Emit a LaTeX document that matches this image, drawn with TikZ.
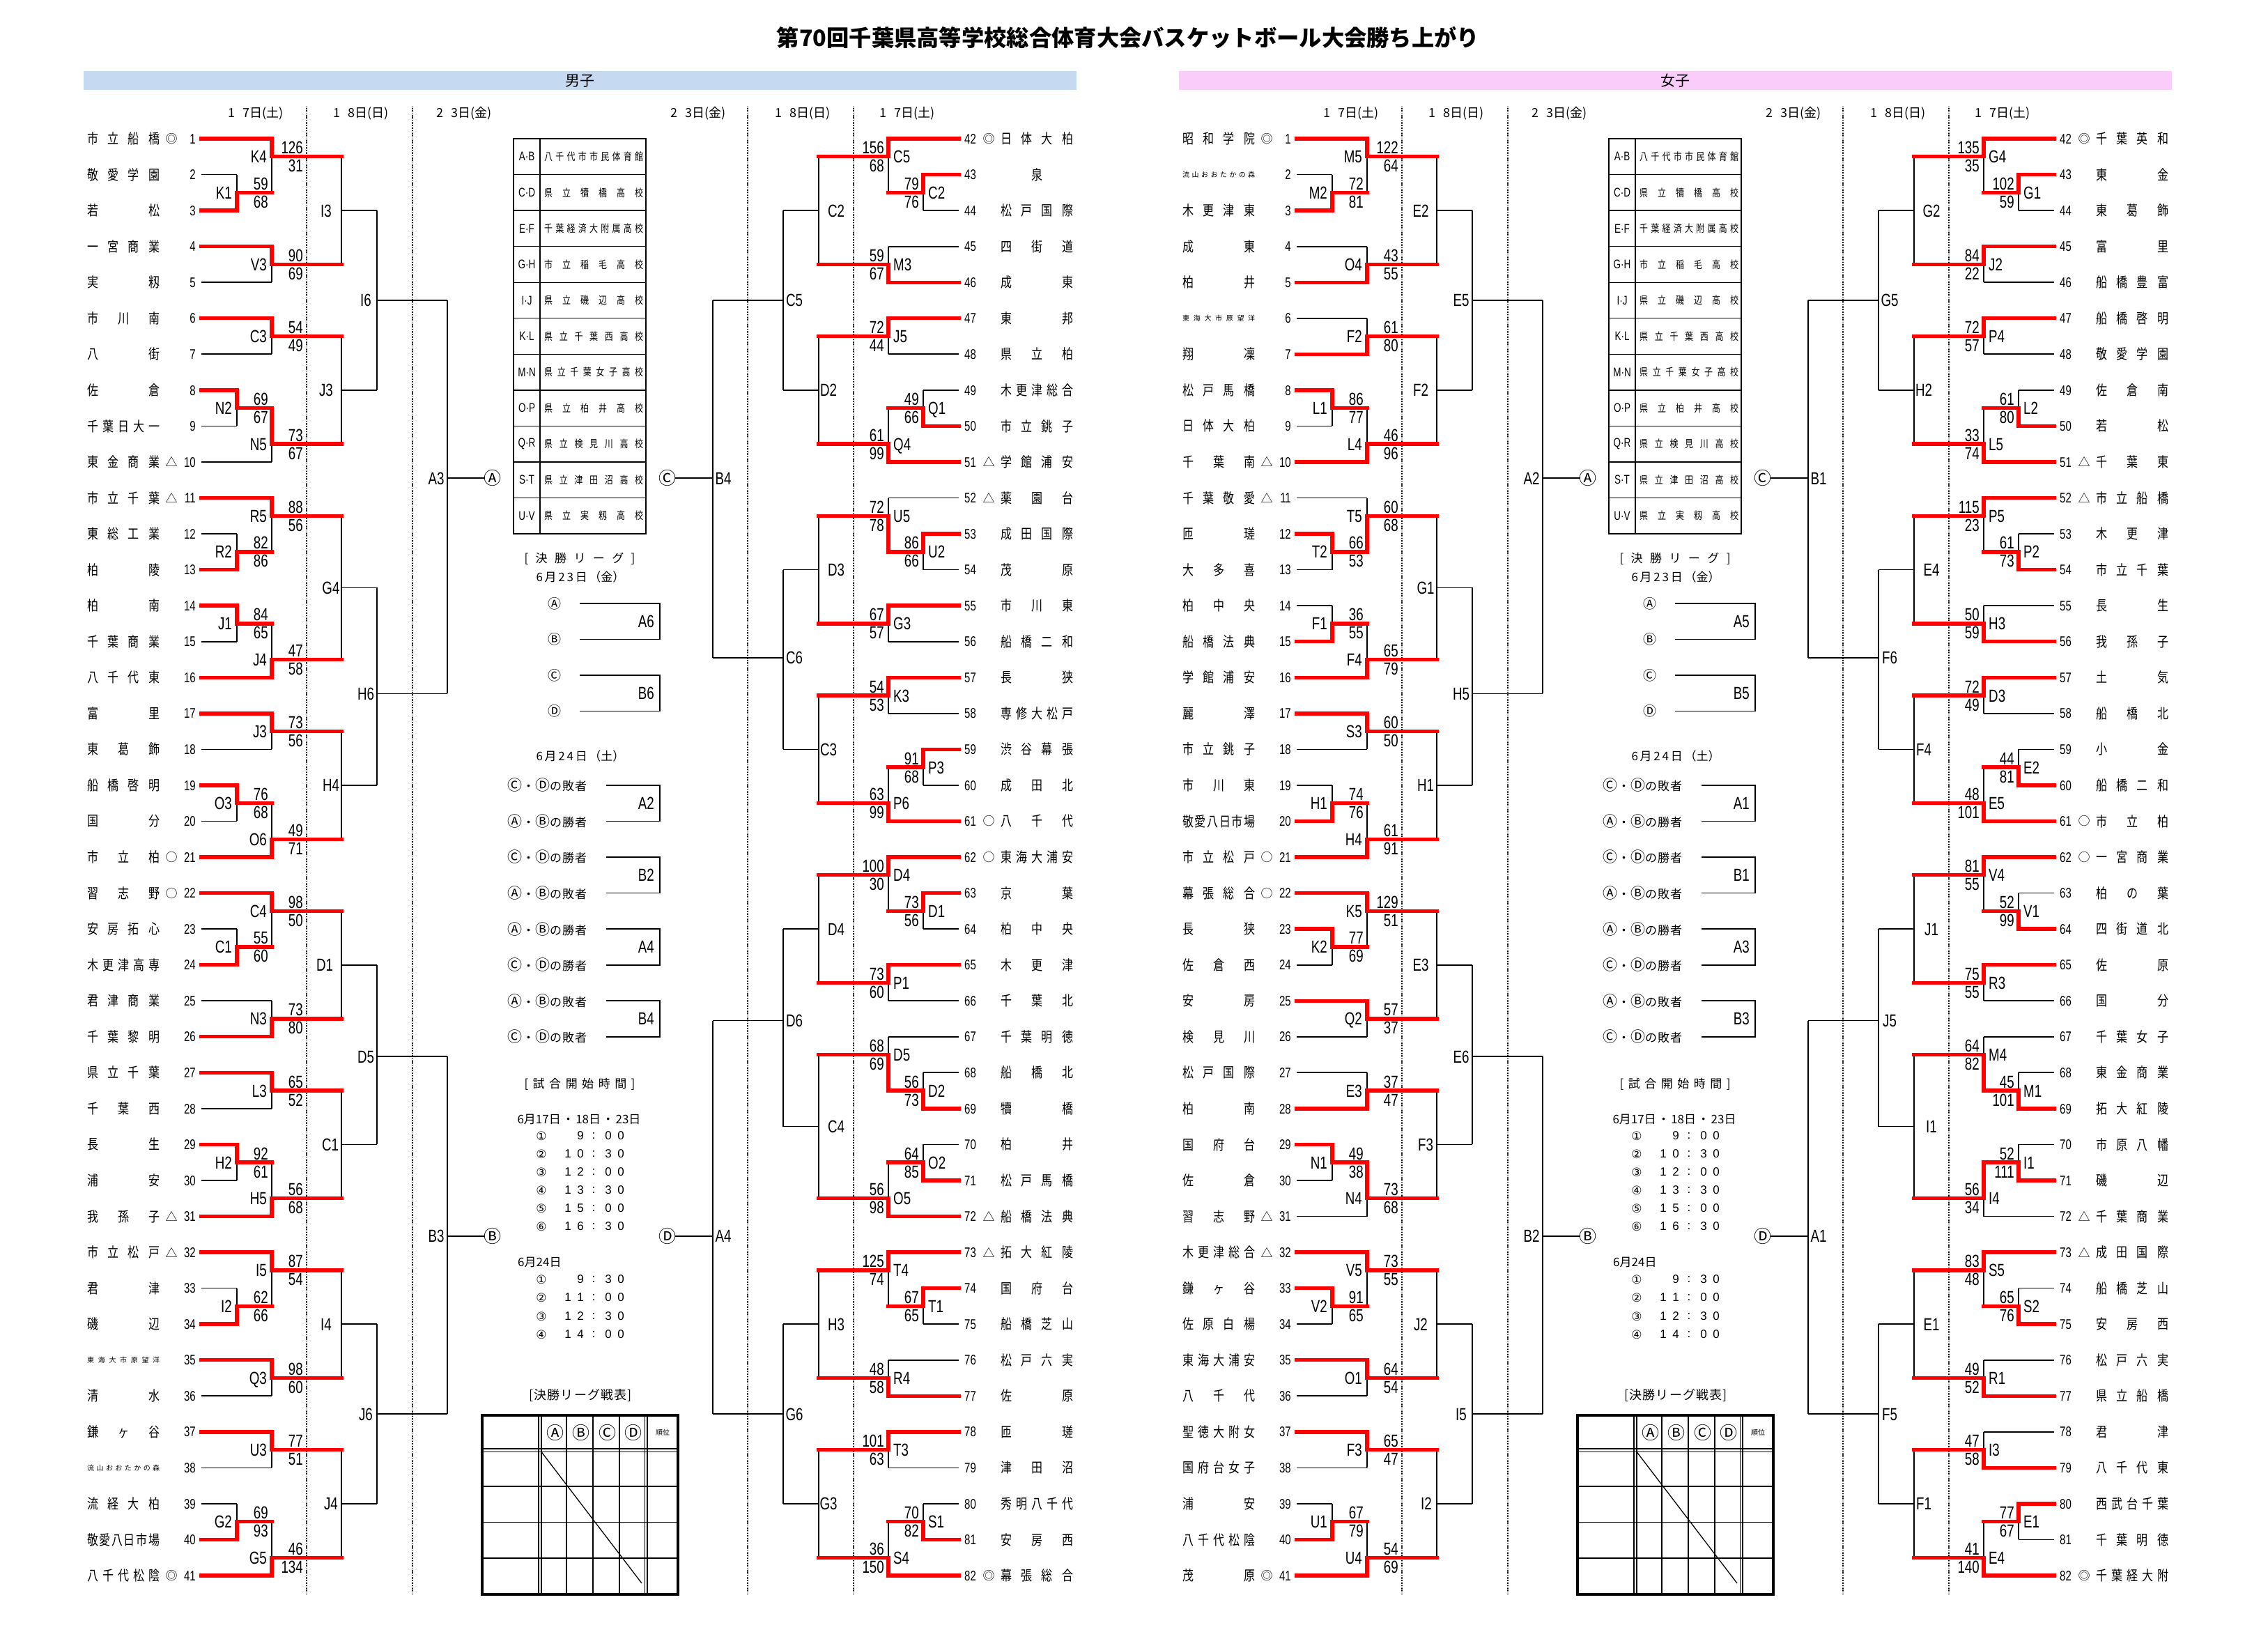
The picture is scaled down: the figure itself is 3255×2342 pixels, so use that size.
\documentclass[tikz,border=0pt]{standalone}
\usepackage{fontspec}
\setmainfont{Liberation Sans}
\newfontfamily\jp[FakeStretch=0.8]{Noto Sans CJK JP}
\newfontfamily\jpn{Noto Sans CJK JP}
\newfontfamily\nm[FakeStretch=0.75]{Liberation Sans}
\newfontfamily\cir{DejaVu Sans}
\pgfdeclarelayer{fg}
\pgfsetlayers{main,fg}
\definecolor{wred}{RGB}{255,0,0}
\definecolor{boyblue}{RGB}{197,217,241}
\definecolor{girlpink}{RGB}{250,204,250}

\def\spreadA#1{\spreadB#1\relax}
\def\spreadB#1#2{#1\ifx\relax#2\else\hfil\expandafter\spreadB\expandafter#2\fi}

\def\xoff{0}\def\xsg{1}\def\namec{125}\def\lanc{east}\def\sco{45}
\newcommand\setside[5]{\def\xoff{#1}\def\xsg{#2}\def\namec{#3}\def\lanc{#4}\def\sco{#5}}
\pgfmathdeclarefunction{colx}{1}{\pgfmathparse{\xoff+(\xsg)*(#1)}}
\pgfmathdeclarefunction{rowy}{1}{\pgfmathparse{147.45+51.55*(#1)}}

\tikzset{
  bk/.style={line width=1.7pt,black},
  rd/.style={line width=5.4pt,wred,line cap=rect},
  lab/.style={inner sep=0pt,text height=18pt,text depth=0pt,font=\nm\fontsize{25}{25}\selectfont},
  tnum/.style={inner sep=0pt,text height=14.3pt,text depth=0pt,font=\nm\fontsize{20}{20}\selectfont},
  mk/.style={inner sep=0pt,font=\jpn\fontsize{17}{17}\selectfont},
  dotl/.style={line width=1.2pt,dash pattern=on 1.2pt off 1.2pt},
  cirl/.style={inner sep=0pt,font=\jpn\fontsize{25}{25}\selectfont},
}

\newcommand\teamI[7]{%
  \pgfmathsetmacro\ty{rowy(#2)}%
  \node[anchor=west,inner sep=0pt] at ({colx(\namec)},\ty) {#1\hbox to 104pt{\spreadA{#5}}};%
  \node[tnum,anchor=\lanc] at ({colx(281)},\ty) {#3};%
  \node[mk] at ({colx(246)},\ty) {#4};%
  \ifnum#7=1\relax
    \begin{pgfonlayer}{fg}\draw[rd] ({colx(289)},\ty) -- ({colx(#6)},\ty);\end{pgfonlayer}%
  \else
    \draw[bk] ({colx(289)},\ty) -- ({colx(#6)},\ty);%
  \fi}
\newcommand\team[6]{\teamI{\jp\fontsize{20}{20}\selectfont}{#1}{#2}{#3}{#4}{#5}{#6}}
\newcommand\teamS[6]{\teamI{\jpn\fontsize{10}{10}\selectfont}{#1}{#2}{#3}{#4}{#5}{#6}}

% played match: x, r1, r2, rout, xnext, winner, label, s1, s2
\newcommand\pmatch[9]{%
  \pgfmathsetmacro\xa{colx(#1)}\pgfmathsetmacro\xb{colx(#5)}%
  \pgfmathsetmacro\ya{rowy(#2)}\pgfmathsetmacro\yb{rowy(#3)}\pgfmathsetmacro\yo{rowy(#4)}%
  \ifnum#6=1 \let\yw\ya\else\let\yw\yb\fi
  \draw[bk] (\xa,\ya) -- (\xa,\yb);%
  \begin{pgfonlayer}{fg}\draw[rd] (\xa,\yw) -- (\xa,\yo) -- (\xb,\yo);\end{pgfonlayer}%
  \pgfmathsetmacro\xl{colx(#1-7)}\pgfmathsetmacro\xs{colx(#1+\sco)}%
  \node[lab,anchor=\lanc] at (\xl,\yo) {#7};%
  \node[lab,anchor=east] at (\xs,\yo-13) {#8};%
  \node[lab,anchor=east] at (\xs,\yo+13) {#9};%
}
% unplayed match: x, r1, r2, rout, xnext, label, label centre x
\newcommand\umatch[7]{%
  \pgfmathsetmacro\xa{colx(#1)}\pgfmathsetmacro\xb{colx(#5)}%
  \pgfmathsetmacro\ya{rowy(#2)}\pgfmathsetmacro\yb{rowy(#3)}\pgfmathsetmacro\yo{rowy(#4)}%
  \draw[bk] (\xa,\ya) -- (\xa,\yb);%
  \draw[bk] (\xa,\yo) -- (\xb,\yo);%
  \node[lab] at ({colx(#7)},\yo) {#6};%
}
\newcommand\cl[2]{\pgfmathsetmacro\ty{rowy(#1)}\node[cirl] at ({colx(707)},\ty) {#2};}
\newcommand\sidedots{\draw[dotl] ({colx(440)},153) -- ({colx(440)},2288);
  \draw[dotl] ({colx(592)},153) -- ({colx(592)},2288);}
\newcommand\dayh[4]{\node[inner sep=0pt] at (#1,163) {\jpn\fontsize{18}{18}\selectfont\hbox to 80pt{#2\hfil #3日(#4)}};}

% centre block
\newcommand\lrow[4]{\node[anchor=west,inner sep=0pt] at (728,#1) {\fontsize{17}{17}\selectfont\hbox to 114pt{{\jpn\fontsize{21}{21}\selectfont #2}\hfil{\jpn ・}\hfil{\jpn\fontsize{21}{21}\selectfont #3}{\jpn の\hfil #4\hfil 者}}};}
\newcommand\bbox[4]{\draw[bk] (#1,#2) -- (947,#2) -- (947,#3) -- (#1,#3);
  \node[lab,anchor=east] at (939,{(#2+#3)/2}) {#4};}
\newcommand\tline[6]{%
  \node[inner sep=0pt] at (777,#1) {\cir\fontsize{17}{17}\selectfont #2};
  \node[inner sep=0pt] at (815,#1) {\fontsize{17}{17}\selectfont #3};
  \node[inner sep=0pt] at (833,#1) {\fontsize{17}{17}\selectfont #4};
  \node[inner sep=0pt] at (852,#1) {\fontsize{17}{17}\selectfont :};
  \node[inner sep=0pt] at (873,#1) {\fontsize{17}{17}\selectfont #5};
  \node[inner sep=0pt] at (891,#1) {\fontsize{17}{17}\selectfont #6};}
\newcommand\vrow[3]{\pgfmathsetmacro\vy{rowy(#1+0.5)}%
  \node[inner sep=0pt] at (756,\vy) {\nm\fontsize{18}{18}\selectfont #2};
  \node[anchor=west,inner sep=0pt] at (781,\vy) {\jp\fontsize{15}{15}\selectfont\hbox to 142pt{\spreadA{#3}}};}
\newcommand\centerblock[7]{%
\begin{scope}[xshift=#1pt]
  \draw[line width=1.3pt] (737,250.55) -- (927,250.55) (737,302.1) -- (927,302.1) (737,353.65) -- (927,353.65)
    (737,405.2) -- (927,405.2) (737,456.75) -- (927,456.75) (737,508.3) -- (927,508.3) (737,559.85) -- (927,559.85)
    (737,611.4) -- (927,611.4) (737,662.95) -- (927,662.95) (737,714.5) -- (927,714.5);
  \draw[line width=2.6pt] (737,199) rectangle (927,766.05);
  \draw[line width=2.6pt] (775,199) -- (775,766.05);
  \vrow{1}{A·B}{八千代市市民体育館}
  \vrow{2}{C·D}{県立犢橋高校}
  \vrow{3}{E·F}{千葉経済大附属高校}
  \vrow{4}{G·H}{市立稲毛高校}
  \vrow{5}{I·J}{県立磯辺高校}
  \vrow{6}{K·L}{県立千葉西高校}
  \vrow{7}{M·N}{県立千葉女子高校}
  \vrow{8}{O·P}{県立柏井高校}
  \vrow{9}{Q·R}{県立検見川高校}
  \vrow{10}{S·T}{県立津田沼高校}
  \vrow{11}{U·V}{県立実籾高校}
  \node[inner sep=0pt] at (832,802) {\jpn\fontsize{17}{17}\selectfont\hbox to 159pt{[\hfil 決\hfil 勝\hfil リ\hfil ー\hfil グ\hfil ]}};
  \node[inner sep=0pt] at (833,828) {\jpn\fontsize{17}{17}\selectfont\hbox to 127pt{6\hfil 月\hfil 2\hfil 3\hfil 日\hfil （金）}};
  \node[inner sep=0pt] at (796,866) {\jpn\fontsize{19}{19}\selectfont Ⓐ};
  \node[inner sep=0pt] at (796,917.5) {\jpn\fontsize{19}{19}\selectfont Ⓑ};
  \node[inner sep=0pt] at (796,969) {\jpn\fontsize{19}{19}\selectfont Ⓒ};
  \node[inner sep=0pt] at (796,1020.5) {\jpn\fontsize{19}{19}\selectfont Ⓓ};
  \bbox{832}{866}{917.5}{#2}
  \bbox{832}{969}{1020.5}{#3}
  \node[inner sep=0pt] at (833,1085) {\jpn\fontsize{17}{17}\selectfont\hbox to 127pt{6\hfil 月\hfil 2\hfil 4\hfil 日\hfil （土）}};
  \lrow{1126.9}{Ⓒ}{Ⓓ}{敗}
  \lrow{1178.45}{Ⓐ}{Ⓑ}{勝}
  \lrow{1230}{Ⓒ}{Ⓓ}{勝}
  \lrow{1281.55}{Ⓐ}{Ⓑ}{敗}
  \lrow{1333.1}{Ⓐ}{Ⓑ}{勝}
  \lrow{1384.65}{Ⓒ}{Ⓓ}{勝}
  \lrow{1436.2}{Ⓐ}{Ⓑ}{敗}
  \lrow{1487.75}{Ⓒ}{Ⓓ}{敗}
  \bbox{870}{1126.9}{1178.45}{#4}
  \bbox{870}{1230}{1281.55}{#5}
  \bbox{870}{1333.1}{1384.65}{#6}
  \bbox{870}{1436.2}{1487.75}{#7}
  \node[inner sep=0pt] at (832,1556) {\jpn\fontsize{17}{17}\selectfont\hbox to 159pt{[\hfil 試\hfil 合\hfil 開\hfil 始\hfil 時\hfil 間\hfil ]}};
  \node[inner sep=0pt] at (831,1606) {\jpn\fontsize{17}{17}\selectfont\hbox to 177pt{6月17日\hfil ・\hfil 18日\hfil ・\hfil 23日}};
  \tline{1630}{①}{}{9}{0}{0}
  \tline{1656}{②}{1}{0}{3}{0}
  \tline{1682}{③}{1}{2}{0}{0}
  \tline{1708}{④}{1}{3}{3}{0}
  \tline{1734}{⑤}{1}{5}{0}{0}
  \tline{1760}{⑥}{1}{6}{3}{0}
  \node[anchor=west,inner sep=0pt] at (743,1811) {\jpn\fontsize{17}{17}\selectfont 6月24日};
  \tline{1836}{①}{}{9}{3}{0}
  \tline{1862}{②}{1}{1}{0}{0}
  \tline{1889}{③}{1}{2}{3}{0}
  \tline{1915}{④}{1}{4}{0}{0}
  \node[inner sep=0pt] at (833,2002) {\jpn\fontsize{18}{18}\selectfont\hbox to 147pt{[\hfil 決\hfil 勝\hfil リ\hfil ー\hfil グ\hfil 戦\hfil 表\hfil ]}};
  \draw[line width=1.2pt] (773,2031) -- (773,2288) (777,2031) -- (777,2288)
    (925.5,2031) -- (925.5,2288) (929,2031) -- (929,2288)
    (692,2079) -- (973,2079) (692,2083.5) -- (973,2083.5);
  \draw[line width=1.6pt] (813,2031) -- (813,2288) (851,2031) -- (851,2288) (889,2031) -- (889,2288)
    (692,2133) -- (973,2133) (692,2184.5) -- (973,2184.5) (692,2236) -- (973,2236);
  \draw[line width=3.5pt] (692,2031) rectangle (973,2288);
  \draw[line width=1.3pt] (777,2083.5) -- (921,2272);
  \node[cirl] at (797,2056) {Ⓐ};
  \node[cirl] at (834,2056) {Ⓑ};
  \node[cirl] at (872,2056) {Ⓒ};
  \node[cirl] at (909,2056) {Ⓓ};
  \node[inner sep=0pt] at (951,2056) {\jpn\fontsize{10}{10}\selectfont 順位};
\end{scope}}

\begin{document}
\begin{tikzpicture}[x=1pt,y=-1pt]
\useasboundingbox (0,0) rectangle (3255,2342);
\fill[white] (0,0) rectangle (3255,2342);

\node[inner sep=0pt] at (1619,54) {\jpn\bfseries\fontsize{32.3}{32.3}\selectfont 第70回千葉県高等学校総合体育大会バスケットボール大会勝ち上がり};
\fill[boyblue] (120,102) rectangle (1545,129);
\fill[girlpink] (1692,102) rectangle (3117,129);
\node[inner sep=0pt] at (832.5,116) {\jpn\fontsize{21}{21}\selectfont 男子};
\node[inner sep=0pt] at (2404.5,116) {\jpn\fontsize{21}{21}\selectfont 女子};

\dayh{367}{1}{7}{土}\dayh{518}{1}{8}{日}\dayh{666}{2}{3}{金}
\dayh{1002}{2}{3}{金}\dayh{1152}{1}{8}{日}\dayh{1302}{1}{7}{土}
\dayh{1939}{1}{7}{土}\dayh{2090}{1}{8}{日}\dayh{2238}{2}{3}{金}
\dayh{2574}{2}{3}{金}\dayh{2724}{1}{8}{日}\dayh{2874}{1}{7}{土}

%================ BOYS LEFT
\setside{0}{1}{125}{east}{45}
\sidedots
\team{1}{1}{◎}{市立船橋}{390}{1}
\team{2}{2}{}{敬愛学園}{340}{0}
\team{3}{3}{}{若松}{340}{1}
\team{4}{4}{}{一宮商業}{390}{1}
\team{5}{5}{}{実籾}{390}{0}
\team{6}{6}{}{市川南}{390}{1}
\team{7}{7}{}{八街}{390}{0}
\team{8}{8}{}{佐倉}{340}{1}
\team{9}{9}{}{千葉日大一}{340}{0}
\team{10}{10}{△}{東金商業}{390}{0}
\team{11}{11}{△}{市立千葉}{390}{1}
\team{12}{12}{}{東総工業}{340}{0}
\team{13}{13}{}{柏陵}{340}{1}
\team{14}{14}{}{柏南}{340}{1}
\team{15}{15}{}{千葉商業}{340}{0}
\team{16}{16}{}{八千代東}{390}{1}
\team{17}{17}{}{富里}{390}{1}
\team{18}{18}{}{東葛飾}{390}{0}
\team{19}{19}{}{船橋啓明}{340}{1}
\team{20}{20}{}{国分}{340}{0}
\team{21}{21}{○}{市立柏}{390}{1}
\team{22}{22}{○}{習志野}{390}{1}
\team{23}{23}{}{安房拓心}{340}{0}
\team{24}{24}{}{木更津高専}{340}{1}
\team{25}{25}{}{君津商業}{390}{0}
\team{26}{26}{}{千葉黎明}{390}{1}
\team{27}{27}{}{県立千葉}{390}{1}
\team{28}{28}{}{千葉西}{390}{0}
\team{29}{29}{}{長生}{340}{1}
\team{30}{30}{}{浦安}{340}{0}
\team{31}{31}{△}{我孫子}{390}{1}
\team{32}{32}{△}{市立松戸}{390}{1}
\team{33}{33}{}{君津}{340}{0}
\team{34}{34}{}{磯辺}{340}{1}
\teamS{35}{35}{}{東海大市原望洋}{390}{1}
\team{36}{36}{}{清水}{390}{0}
\team{37}{37}{}{鎌ヶ谷}{390}{1}
\teamS{38}{38}{}{流山おおたかの森}{390}{0}
\team{39}{39}{}{流経大柏}{340}{0}
\team{40}{40}{}{敬愛八日市場}{340}{1}
\team{41}{41}{◎}{八千代松陰}{390}{1}
\pmatch{340}{2}{3}{2.5}{390}{2}{K1}{59}{68}
\pmatch{390}{1}{2.5}{1.5}{490}{1}{K4}{126}{31}
\pmatch{390}{4}{5}{4.5}{490}{1}{V3}{90}{69}
\pmatch{390}{6}{7}{6.5}{490}{1}{C3}{54}{49}
\pmatch{340}{8}{9}{8.5}{390}{1}{N2}{69}{67}
\pmatch{390}{8.5}{10}{9.5}{490}{1}{N5}{73}{67}
\pmatch{340}{12}{13}{12.5}{390}{2}{R2}{82}{86}
\pmatch{390}{11}{12.5}{11.5}{490}{1}{R5}{88}{56}
\pmatch{340}{14}{15}{14.5}{390}{1}{J1}{84}{65}
\pmatch{390}{14.5}{16}{15.5}{490}{2}{J4}{47}{58}
\pmatch{390}{17}{18}{17.5}{490}{1}{J3}{73}{56}
\pmatch{340}{19}{20}{19.5}{390}{1}{O3}{76}{68}
\pmatch{390}{19.5}{21}{20.5}{490}{2}{O6}{49}{71}
\pmatch{340}{23}{24}{23.5}{390}{2}{C1}{55}{60}
\pmatch{390}{22}{23.5}{22.5}{490}{1}{C4}{98}{50}
\pmatch{390}{25}{26}{25.5}{490}{2}{N3}{73}{80}
\pmatch{390}{27}{28}{27.5}{490}{1}{L3}{65}{52}
\pmatch{340}{29}{30}{29.5}{390}{1}{H2}{92}{61}
\pmatch{390}{29.5}{31}{30.5}{490}{2}{H5}{56}{68}
\pmatch{340}{33}{34}{33.5}{390}{2}{I2}{62}{66}
\pmatch{390}{32}{33.5}{32.5}{490}{1}{I5}{87}{54}
\pmatch{390}{35}{36}{35.5}{490}{1}{Q3}{98}{60}
\pmatch{390}{37}{38}{37.5}{490}{1}{U3}{77}{51}
\pmatch{340}{39}{40}{39.5}{390}{2}{G2}{69}{93}
\pmatch{390}{39.5}{41}{40.5}{490}{2}{G5}{46}{134}
\umatch{490}{1.5}{4.5}{3.0}{541}{I3}{468}
\umatch{490}{6.5}{9.5}{8.0}{541}{J3}{468}
\umatch{490}{11.5}{15.5}{13.5}{541}{G4}{475}
\umatch{490}{17.5}{20.5}{19.0}{541}{H4}{475}
\umatch{490}{22.5}{25.5}{24.0}{541}{D1}{466}
\umatch{490}{27.5}{30.5}{29.0}{541}{C1}{474}
\umatch{490}{32.5}{35.5}{34.0}{541}{I4}{468}
\umatch{490}{37.5}{40.5}{39.0}{541}{J4}{475}
\umatch{541}{3.0}{8.0}{5.5}{642}{I6}{525}
\umatch{541}{13.5}{19.0}{16.45}{642}{H6}{525}
\umatch{541}{24.0}{29.0}{26.55}{642}{D5}{525}
\umatch{541}{34.0}{39.0}{36.5}{642}{J6}{525}
\umatch{642}{5.5}{16.45}{10.45}{696}{A3}{626}
\umatch{642}{26.55}{36.5}{31.55}{696}{B3}{626}
\cl{10.45}{Ⓐ}\cl{31.55}{Ⓑ}

%================ BOYS RIGHT
\setside{1665}{-1}{229}{west}{6}
\sidedots
\team{1}{42}{◎}{日体大柏}{390}{1}
\team{2}{43}{}{\hfil 泉\hfil}{340}{1}
\team{3}{44}{}{松戸国際}{340}{0}
\team{4}{45}{}{四街道}{390}{0}
\team{5}{46}{}{成東}{390}{1}
\team{6}{47}{}{東邦}{390}{1}
\team{7}{48}{}{県立柏}{390}{0}
\team{8}{49}{}{木更津総合}{340}{0}
\team{9}{50}{}{市立銚子}{340}{1}
\team{10}{51}{△}{学館浦安}{390}{1}
\team{11}{52}{△}{薬園台}{390}{0}
\team{12}{53}{}{成田国際}{340}{1}
\team{13}{54}{}{茂原}{340}{0}
\team{14}{55}{}{市川東}{390}{1}
\team{15}{56}{}{船橋二和}{390}{0}
\team{16}{57}{}{長狭}{390}{1}
\team{17}{58}{}{専修大松戸}{390}{0}
\team{18}{59}{}{渋谷幕張}{340}{1}
\team{19}{60}{}{成田北}{340}{0}
\team{20}{61}{○}{八千代}{390}{1}
\team{21}{62}{○}{東海大浦安}{390}{1}
\team{22}{63}{}{京葉}{340}{1}
\team{23}{64}{}{柏中央}{340}{0}
\team{24}{65}{}{木更津}{390}{1}
\team{25}{66}{}{千葉北}{390}{0}
\team{26}{67}{}{千葉明徳}{390}{0}
\team{27}{68}{}{船橋北}{340}{0}
\team{28}{69}{}{犢橋}{340}{1}
\team{29}{70}{}{柏井}{340}{0}
\team{30}{71}{}{松戸馬橋}{340}{1}
\team{31}{72}{△}{船橋法典}{390}{1}
\team{32}{73}{△}{拓大紅陵}{390}{1}
\team{33}{74}{}{国府台}{340}{1}
\team{34}{75}{}{船橋芝山}{340}{0}
\team{35}{76}{}{松戸六実}{390}{0}
\team{36}{77}{}{佐原}{390}{1}
\team{37}{78}{}{匝瑳}{390}{1}
\team{38}{79}{}{津田沼}{390}{0}
\team{39}{80}{}{秀明八千代}{340}{0}
\team{40}{81}{}{安房西}{340}{1}
\team{41}{82}{◎}{幕張総合}{390}{1}
\pmatch{340}{2}{3}{2.5}{390}{1}{C2}{79}{76}
\pmatch{390}{1}{2.5}{1.5}{490}{1}{C5}{156}{68}
\pmatch{390}{4}{5}{4.5}{490}{2}{M3}{59}{67}
\pmatch{390}{6}{7}{6.5}{490}{1}{J5}{72}{44}
\pmatch{340}{8}{9}{8.5}{390}{2}{Q1}{49}{66}
\pmatch{390}{8.5}{10}{9.5}{490}{2}{Q4}{61}{99}
\pmatch{340}{12}{13}{12.5}{390}{1}{U2}{86}{66}
\pmatch{390}{11}{12.5}{11.5}{490}{2}{U5}{72}{78}
\pmatch{390}{14}{15}{14.5}{490}{1}{G3}{67}{57}
\pmatch{390}{16}{17}{16.5}{490}{1}{K3}{54}{53}
\pmatch{340}{18}{19}{18.5}{390}{1}{P3}{91}{68}
\pmatch{390}{18.5}{20}{19.5}{490}{2}{P6}{63}{99}
\pmatch{340}{22}{23}{22.5}{390}{1}{D1}{73}{56}
\pmatch{390}{21}{22.5}{21.5}{490}{1}{D4}{100}{30}
\pmatch{390}{24}{25}{24.5}{490}{1}{P1}{73}{60}
\pmatch{340}{27}{28}{27.5}{390}{2}{D2}{56}{73}
\pmatch{390}{26}{27.5}{26.5}{490}{2}{D5}{68}{69}
\pmatch{340}{29}{30}{29.5}{390}{2}{O2}{64}{85}
\pmatch{390}{29.5}{31}{30.5}{490}{2}{O5}{56}{98}
\pmatch{340}{33}{34}{33.5}{390}{1}{T1}{67}{65}
\pmatch{390}{32}{33.5}{32.5}{490}{1}{T4}{125}{74}
\pmatch{390}{35}{36}{35.5}{490}{2}{R4}{48}{58}
\pmatch{390}{37}{38}{37.5}{490}{1}{T3}{101}{63}
\pmatch{340}{39}{40}{39.5}{390}{2}{S1}{70}{82}
\pmatch{390}{39.5}{41}{40.5}{490}{2}{S4}{36}{150}
\umatch{490}{1.5}{4.5}{3.0}{541}{C2}{465}
\umatch{490}{6.5}{9.5}{8.0}{541}{D2}{476}
\umatch{490}{11.5}{14.5}{13.0}{541}{D3}{465}
\umatch{490}{16.5}{19.5}{18.0}{541}{C3}{476}
\umatch{490}{21.5}{24.5}{23.0}{541}{D4}{465}
\umatch{490}{26.5}{30.5}{28.5}{541}{C4}{465}
\umatch{490}{32.5}{35.5}{34.0}{541}{H3}{465}
\umatch{490}{37.5}{40.5}{39.0}{541}{G3}{476}
\umatch{541}{3.0}{8.0}{5.5}{642}{C5}{525}
\umatch{541}{13.0}{18.0}{15.45}{642}{C6}{525}
\umatch{541}{23.0}{28.5}{25.55}{642}{D6}{525}
\umatch{541}{34.0}{39.0}{36.5}{642}{G6}{525}
\umatch{642}{5.5}{15.45}{10.45}{696}{B4}{627}
\umatch{642}{25.55}{36.5}{31.55}{696}{A4}{627}
\cl{10.45}{Ⓒ}\cl{31.55}{Ⓓ}

%================ GIRLS LEFT
\setside{1572}{1}{125}{east}{45}
\sidedots
\team{1}{1}{◎}{昭和学院}{390}{1}
\teamS{2}{2}{}{流山おおたかの森}{340}{0}
\team{3}{3}{}{木更津東}{340}{1}
\team{4}{4}{}{成東}{390}{0}
\team{5}{5}{}{柏井}{390}{1}
\teamS{6}{6}{}{東海大市原望洋}{390}{0}
\team{7}{7}{}{翔凜}{390}{1}
\team{8}{8}{}{松戸馬橋}{340}{1}
\team{9}{9}{}{日体大柏}{340}{0}
\team{10}{10}{△}{千葉南}{390}{1}
\team{11}{11}{△}{千葉敬愛}{390}{0}
\team{12}{12}{}{匝瑳}{340}{1}
\team{13}{13}{}{大多喜}{340}{0}
\team{14}{14}{}{柏中央}{340}{0}
\team{15}{15}{}{船橋法典}{340}{1}
\team{16}{16}{}{学館浦安}{390}{1}
\team{17}{17}{}{麗澤}{390}{1}
\team{18}{18}{}{市立銚子}{390}{0}
\team{19}{19}{}{市川東}{340}{0}
\team{20}{20}{}{敬愛八日市場}{340}{1}
\team{21}{21}{○}{市立松戸}{390}{1}
\team{22}{22}{○}{幕張総合}{390}{1}
\team{23}{23}{}{長狭}{340}{1}
\team{24}{24}{}{佐倉西}{340}{0}
\team{25}{25}{}{安房}{390}{1}
\team{26}{26}{}{検見川}{390}{0}
\team{27}{27}{}{松戸国際}{390}{0}
\team{28}{28}{}{柏南}{390}{1}
\team{29}{29}{}{国府台}{340}{1}
\team{30}{30}{}{佐倉}{340}{0}
\team{31}{31}{△}{習志野}{390}{0}
\team{32}{32}{△}{木更津総合}{390}{1}
\team{33}{33}{}{鎌ヶ谷}{340}{1}
\team{34}{34}{}{佐原白楊}{340}{0}
\team{35}{35}{}{東海大浦安}{390}{1}
\team{36}{36}{}{八千代}{390}{0}
\team{37}{37}{}{聖徳大附女}{390}{1}
\team{38}{38}{}{国府台女子}{390}{0}
\team{39}{39}{}{浦安}{340}{0}
\team{40}{40}{}{八千代松陰}{340}{1}
\team{41}{41}{◎}{茂原}{390}{1}
\pmatch{340}{2}{3}{2.5}{390}{2}{M2}{72}{81}
\pmatch{390}{1}{2.5}{1.5}{490}{1}{M5}{122}{64}
\pmatch{390}{4}{5}{4.5}{490}{2}{O4}{43}{55}
\pmatch{390}{6}{7}{6.5}{490}{2}{F2}{61}{80}
\pmatch{340}{8}{9}{8.5}{390}{1}{L1}{86}{77}
\pmatch{390}{8.5}{10}{9.5}{490}{2}{L4}{46}{96}
\pmatch{340}{12}{13}{12.5}{390}{1}{T2}{66}{53}
\pmatch{390}{11}{12.5}{11.5}{490}{2}{T5}{60}{68}
\pmatch{340}{14}{15}{14.5}{390}{2}{F1}{36}{55}
\pmatch{390}{14.5}{16}{15.5}{490}{2}{F4}{65}{79}
\pmatch{390}{17}{18}{17.5}{490}{1}{S3}{60}{50}
\pmatch{340}{19}{20}{19.5}{390}{2}{H1}{74}{76}
\pmatch{390}{19.5}{21}{20.5}{490}{2}{H4}{61}{91}
\pmatch{340}{23}{24}{23.5}{390}{1}{K2}{77}{69}
\pmatch{390}{22}{23.5}{22.5}{490}{1}{K5}{129}{51}
\pmatch{390}{25}{26}{25.5}{490}{1}{Q2}{57}{37}
\pmatch{390}{27}{28}{27.5}{490}{2}{E3}{37}{47}
\pmatch{340}{29}{30}{29.5}{390}{1}{N1}{49}{38}
\pmatch{390}{29.5}{31}{30.5}{490}{1}{N4}{73}{68}
\pmatch{340}{33}{34}{33.5}{390}{1}{V2}{91}{65}
\pmatch{390}{32}{33.5}{32.5}{490}{1}{V5}{73}{55}
\pmatch{390}{35}{36}{35.5}{490}{1}{O1}{64}{54}
\pmatch{390}{37}{38}{37.5}{490}{1}{F3}{65}{47}
\pmatch{340}{39}{40}{39.5}{390}{2}{U1}{67}{79}
\pmatch{390}{39.5}{41}{40.5}{490}{2}{U4}{54}{69}
\umatch{490}{1.5}{4.5}{3.0}{541}{E2}{467}
\umatch{490}{6.5}{9.5}{8.0}{541}{F2}{467}
\umatch{490}{11.5}{15.5}{13.5}{541}{G1}{474}
\umatch{490}{17.5}{20.5}{19.0}{541}{H1}{474}
\umatch{490}{22.5}{25.5}{24.0}{541}{E3}{467}
\umatch{490}{27.5}{30.5}{29.0}{541}{F3}{474}
\umatch{490}{32.5}{35.5}{34.0}{541}{J2}{467}
\umatch{490}{37.5}{40.5}{39.0}{541}{I2}{475}
\umatch{541}{3.0}{8.0}{5.5}{642}{E5}{525}
\umatch{541}{13.5}{19.0}{16.45}{642}{H5}{525}
\umatch{541}{24.0}{29.0}{26.55}{642}{E6}{525}
\umatch{541}{34.0}{39.0}{36.5}{642}{I5}{525}
\umatch{642}{5.5}{16.45}{10.45}{696}{A2}{626}
\umatch{642}{26.55}{36.5}{31.55}{696}{B2}{626}
\cl{10.45}{Ⓐ}\cl{31.55}{Ⓑ}

%================ GIRLS RIGHT
\setside{3237}{-1}{229}{west}{6}
\sidedots
\team{1}{42}{◎}{千葉英和}{390}{1}
\team{2}{43}{}{東金}{340}{1}
\team{3}{44}{}{東葛飾}{340}{0}
\team{4}{45}{}{富里}{390}{1}
\team{5}{46}{}{船橋豊富}{390}{0}
\team{6}{47}{}{船橋啓明}{390}{1}
\team{7}{48}{}{敬愛学園}{390}{0}
\team{8}{49}{}{佐倉南}{340}{0}
\team{9}{50}{}{若松}{340}{1}
\team{10}{51}{△}{千葉東}{390}{1}
\team{11}{52}{△}{市立船橋}{390}{1}
\team{12}{53}{}{木更津}{340}{0}
\team{13}{54}{}{市立千葉}{340}{1}
\team{14}{55}{}{長生}{390}{0}
\team{15}{56}{}{我孫子}{390}{1}
\team{16}{57}{}{土気}{390}{1}
\team{17}{58}{}{船橋北}{390}{0}
\team{18}{59}{}{小金}{340}{0}
\team{19}{60}{}{船橋二和}{340}{1}
\team{20}{61}{○}{市立柏}{390}{1}
\team{21}{62}{○}{一宮商業}{390}{1}
\team{22}{63}{}{柏の葉}{340}{0}
\team{23}{64}{}{四街道北}{340}{1}
\team{24}{65}{}{佐原}{390}{1}
\team{25}{66}{}{国分}{390}{0}
\team{26}{67}{}{千葉女子}{390}{0}
\team{27}{68}{}{東金商業}{340}{0}
\team{28}{69}{}{拓大紅陵}{340}{1}
\team{29}{70}{}{市原八幡}{340}{0}
\team{30}{71}{}{磯辺}{340}{1}
\team{31}{72}{△}{千葉商業}{390}{0}
\team{32}{73}{△}{成田国際}{390}{1}
\team{33}{74}{}{船橋芝山}{340}{0}
\team{34}{75}{}{安房西}{340}{1}
\team{35}{76}{}{松戸六実}{390}{0}
\team{36}{77}{}{県立船橋}{390}{1}
\team{37}{78}{}{君津}{390}{0}
\team{38}{79}{}{八千代東}{390}{1}
\team{39}{80}{}{西武台千葉}{340}{1}
\team{40}{81}{}{千葉明徳}{340}{0}
\team{41}{82}{◎}{千葉経大附}{390}{1}
\pmatch{340}{2}{3}{2.5}{390}{1}{G1}{102}{59}
\pmatch{390}{1}{2.5}{1.5}{490}{1}{G4}{135}{35}
\pmatch{390}{4}{5}{4.5}{490}{1}{J2}{84}{22}
\pmatch{390}{6}{7}{6.5}{490}{1}{P4}{72}{57}
\pmatch{340}{8}{9}{8.5}{390}{2}{L2}{61}{80}
\pmatch{390}{8.5}{10}{9.5}{490}{2}{L5}{33}{74}
\pmatch{340}{12}{13}{12.5}{390}{2}{P2}{61}{73}
\pmatch{390}{11}{12.5}{11.5}{490}{1}{P5}{115}{23}
\pmatch{390}{14}{15}{14.5}{490}{2}{H3}{50}{59}
\pmatch{390}{16}{17}{16.5}{490}{1}{D3}{72}{49}
\pmatch{340}{18}{19}{18.5}{390}{2}{E2}{44}{81}
\pmatch{390}{18.5}{20}{19.5}{490}{2}{E5}{48}{101}
\pmatch{340}{22}{23}{22.5}{390}{2}{V1}{52}{99}
\pmatch{390}{21}{22.5}{21.5}{490}{1}{V4}{81}{55}
\pmatch{390}{24}{25}{24.5}{490}{1}{R3}{75}{55}
\pmatch{340}{27}{28}{27.5}{390}{2}{M1}{45}{101}
\pmatch{390}{26}{27.5}{26.5}{490}{2}{M4}{64}{82}
\pmatch{340}{29}{30}{29.5}{390}{2}{I1}{52}{111}
\pmatch{390}{29.5}{31}{30.5}{490}{1}{I4}{56}{34}
\pmatch{340}{33}{34}{33.5}{390}{2}{S2}{65}{76}
\pmatch{390}{32}{33.5}{32.5}{490}{1}{S5}{83}{48}
\pmatch{390}{35}{36}{35.5}{490}{2}{R1}{49}{52}
\pmatch{390}{37}{38}{37.5}{490}{2}{I3}{47}{58}
\pmatch{340}{39}{40}{39.5}{390}{1}{E1}{77}{67}
\pmatch{390}{39.5}{41}{40.5}{490}{2}{E4}{41}{140}
\umatch{490}{1.5}{4.5}{3.0}{541}{G2}{465}
\umatch{490}{6.5}{9.5}{8.0}{541}{H2}{476}
\umatch{490}{11.5}{14.5}{13.0}{541}{E4}{465}
\umatch{490}{16.5}{19.5}{18.0}{541}{F4}{476}
\umatch{490}{21.5}{24.5}{23.0}{541}{J1}{465}
\umatch{490}{26.5}{30.5}{28.5}{541}{I1}{465}
\umatch{490}{32.5}{35.5}{34.0}{541}{E1}{465}
\umatch{490}{37.5}{40.5}{39.0}{541}{F1}{476}
\umatch{541}{3.0}{8.0}{5.5}{642}{G5}{525}
\umatch{541}{13.0}{18.0}{15.45}{642}{F6}{525}
\umatch{541}{23.0}{28.5}{25.55}{642}{J5}{525}
\umatch{541}{34.0}{39.0}{36.5}{642}{F5}{525}
\umatch{642}{5.5}{15.45}{10.45}{696}{B1}{627}
\umatch{642}{25.55}{36.5}{31.55}{696}{A1}{627}
\cl{10.45}{Ⓒ}\cl{31.55}{Ⓓ}

%================ CENTRES
\centerblock{0}{A6}{B6}{A2}{B2}{A4}{B4}
\centerblock{1572}{A5}{B5}{A1}{B1}{A3}{B3}
\end{tikzpicture}
\end{document}
